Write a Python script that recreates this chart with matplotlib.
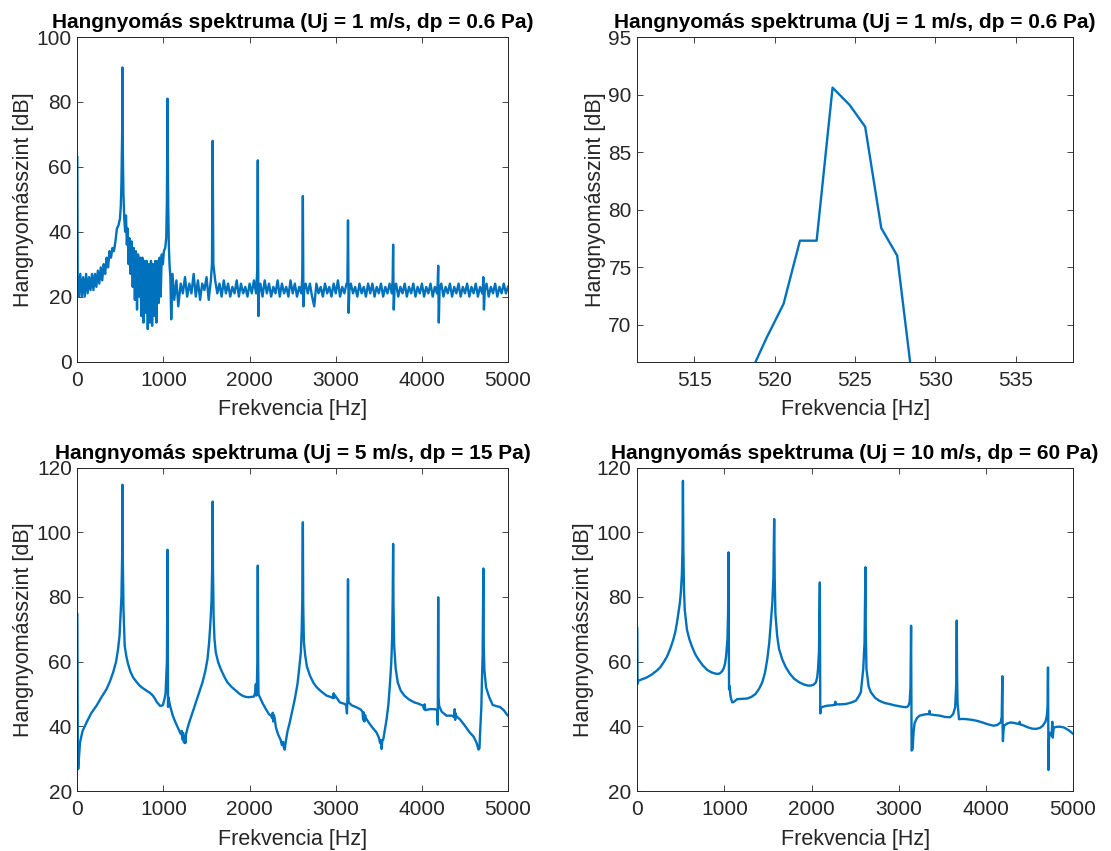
import numpy as np
import matplotlib.pyplot as plt

plt.rcParams['font.family'] = ['Liberation Sans', 'DejaVu Sans']

# Uj = 1 m/s, dp = 0.6 Pa  (frequency [Hz], level [dB])
spec_1 = [
    (0, 63), (4, 24), (17, 20), (34, 27), (51, 20), (68, 26), (85, 20), (102, 27),
    (119, 21), (136, 26), (153, 22), (170, 27), (187, 22), (204, 27), (221, 23),
    (238, 28), (255, 24), (272, 29), (289, 25), (306, 30), (323, 27), (340, 32),
    (357, 29), (374, 34), (391, 32), (408, 35), (425, 34), (442, 37), (460, 41),
    (478, 42), (495, 44), (505, 48), (512, 55), (518.5, 65.8), (519.52, 68.9),
    (520.56, 71.8), (521.58, 77.3), (522.62, 77.3), (523.61, 90.6), (524.67, 89.1),
    (525.64, 87.2), (526.64, 78.4), (527.63, 76.0), (528.65, 64.3), (535, 52),
    (545, 44), (555, 40), (565, 45), (575, 36), (585, 41), (595, 30), (605, 38),
    (618, 27), (630, 37), (643, 23), (655, 35), (668, 19), (680, 34), (693, 16),
    (705, 33), (718, 20), (730, 32), (743, 14), (755, 32), (768, 12), (780, 31),
    (793, 15), (805, 31), (818, 10), (830, 30), (843, 12), (855, 31), (868, 11),
    (880, 30), (893, 14), (905, 31), (918, 12), (930, 31), (943, 18), (955, 32),
    (968, 20), (980, 33), (993, 30), (1005, 34), (1020, 35), (1032, 38), (1040, 50),
    (1047, 81), (1054, 50), (1062, 36), (1070, 30), (1080, 26), (1090, 13),
    (1105, 27), (1125, 19), (1150, 25), (1172, 17), (1200, 24), (1225, 21),
    (1250, 26), (1275, 20), (1300, 24), (1325, 21), (1350, 27), (1375, 20),
    (1400, 25), (1425, 19), (1450, 24), (1475, 22), (1500, 26), (1525, 19),
    (1550, 25), (1563, 30), (1571, 68), (1579, 30), (1600, 25), (1625, 21),
    (1650, 24), (1675, 20), (1700, 25), (1725, 21), (1750, 24), (1775, 20),
    (1800, 23), (1825, 21), (1850, 25), (1875, 20), (1900, 24), (1925, 21),
    (1950, 23), (1975, 20), (2000, 24), (2025, 21), (2050, 25), (2075, 21),
    (2088, 28), (2095, 62), (2102, 14), (2110, 22), (2125, 24), (2150, 20),
    (2175, 25), (2200, 21), (2225, 24), (2250, 20), (2275, 23), (2300, 21),
    (2325, 25), (2350, 20), (2375, 24), (2400, 21), (2425, 23), (2450, 20),
    (2475, 25), (2500, 21), (2525, 24), (2550, 20), (2575, 23), (2600, 21),
    (2611, 26), (2618, 51), (2625, 17), (2635, 23), (2650, 24), (2675, 21),
    (2700, 24), (2725, 20), (2750, 17), (2775, 24), (2800, 21), (2825, 23),
    (2850, 20), (2875, 24), (2900, 21), (2925, 23), (2950, 20), (2975, 24),
    (3000, 21), (3025, 25), (3050, 20), (3075, 23), (3100, 21), (3125, 24),
    (3135, 24), (3142, 43.5), (3149, 15), (3158, 22), (3175, 24), (3200, 21),
    (3225, 23), (3250, 20), (3275, 24), (3300, 21), (3325, 23), (3350, 20),
    (3375, 24), (3400, 21), (3425, 24), (3450, 20), (3475, 23), (3500, 21),
    (3525, 24), (3550, 20), (3575, 23), (3600, 21), (3625, 24), (3650, 21),
    (3660, 25), (3666, 36), (3673, 16), (3682, 22), (3700, 24), (3725, 20),
    (3750, 23), (3775, 21), (3800, 24), (3825, 20), (3850, 23), (3875, 21),
    (3900, 24), (3925, 20), (3950, 23), (3975, 21), (4000, 24), (4025, 20),
    (4050, 23), (4075, 21), (4100, 24), (4125, 20), (4150, 23), (4175, 21),
    (4183, 24), (4189, 29.5), (4196, 12), (4205, 22), (4225, 24), (4250, 20),
    (4275, 23), (4300, 21), (4325, 24), (4350, 20), (4375, 23), (4400, 21),
    (4425, 24), (4450, 20), (4475, 23), (4500, 21), (4525, 24), (4550, 20),
    (4575, 23), (4600, 21), (4625, 24), (4650, 20), (4675, 23), (4700, 21),
    (4708, 23), (4713, 26), (4720, 16), (4730, 22), (4750, 24), (4775, 20),
    (4800, 23), (4825, 21), (4850, 24), (4875, 20), (4900, 23), (4925, 21),
    (4950, 24), (4975, 21), (5000, 23),
]

# Uj = 5 m/s, dp = 15 Pa
spec_5 = [
    (0, 74.7), (5, 35), (10, 26.8), (31, 35.0), (60, 38.5), (107, 41.2), (160, 44),
    (223, 46.4), (280, 49), (339, 51.5), (380, 54), (416, 56.7), (450, 60),
    (473, 63.9), (490, 68), (500, 73.2), (512, 80), (520, 92), (524, 114.7),
    (528, 92), (536, 76), (550, 64.9), (570, 61.5), (589, 59.3), (615, 57),
    (646, 55.2), (685, 53.8), (723, 52.6), (760, 51.8), (800, 51.1), (840, 50.4),
    (877, 49.5), (900, 48.6), (923, 47.5), (945, 46.8), (962, 46.3), (993, 46.5),
    (1012, 48.5), (1024, 50.1), (1040, 60), (1047, 94.6), (1051, 60), (1053, 46),
    (1056, 49), (1060, 48.5), (1080, 46), (1108, 43.3), (1135, 41.5), (1165, 39.7),
    (1185, 38.5), (1203, 37.6), (1212, 38.6), (1220, 36.0), (1228, 38.0),
    (1235, 35.2), (1241, 35.0), (1248, 36.8), (1254, 34.8), (1262, 37.6),
    (1280, 39.5), (1299, 41.2), (1340, 44.5), (1376, 47.4), (1415, 50.5),
    (1453, 53.6), (1485, 57), (1511, 60.8), (1530, 66), (1545, 72), (1558, 79),
    (1566, 90), (1571, 109.5), (1575, 88), (1582, 74), (1592, 67), (1607, 62.9),
    (1635, 59.8), (1665, 57.7), (1705, 55.4), (1742, 53.6), (1790, 52.2),
    (1838, 51.1), (1880, 50.1), (1915, 49.5), (1955, 49.1), (1992, 49.0),
    (2050, 49.2), (2065, 50.5), (2072, 53), (2078, 49.5), (2085, 53.5), (2090, 60),
    (2095, 89.7), (2099, 60), (2103, 50), (2110, 49.5), (2128, 48.5), (2146, 47.4),
    (2185, 45.5), (2223, 43.8), (2250, 43.2), (2262, 42.5), (2268, 44.2),
    (2275, 41.5), (2282, 43.5), (2290, 42.6), (2305, 39.7), (2330, 37.5),
    (2360, 35.8), (2375, 34.2), (2388, 35.2), (2398, 33.4), (2408, 32.8),
    (2418, 35), (2440, 38.5), (2466, 41.2), (2500, 45.5), (2525, 48.5), (2555, 53),
    (2575, 57.7), (2595, 63), (2605, 70), (2612, 80), (2618, 103.1), (2622, 78),
    (2630, 66), (2645, 62), (2665, 58.5), (2700, 55.7), (2740, 53.5), (2778, 52.1),
    (2830, 50.8), (2893, 49.5), (2950, 49.0), (2968, 48.7), (2975, 50.2),
    (2982, 48.8), (2990, 49.6), (3048, 47.4), (3107, 46.9), (3122, 46.3),
    (3130, 44), (3136, 49), (3142, 85.5), (3146, 50), (3150, 47.4), (3185, 46.5),
    (3240, 45.9), (3290, 45.2), (3310, 44.5), (3318, 42), (3325, 44.3),
    (3332, 41.5), (3340, 43.5), (3350, 42.5), (3395, 40.7), (3435, 39.3),
    (3473, 38.1), (3500, 36.5), (3515, 34.8), (3525, 35.8), (3532, 33.0),
    (3540, 35.5), (3552, 36), (3570, 39), (3590, 42.2), (3612, 47), (3630, 53.6),
    (3645, 60), (3655, 68), (3661, 80), (3666, 96.4), (3670, 78), (3678, 65),
    (3695, 58), (3719, 53.6), (3755, 51), (3796, 49.5), (3850, 48.3), (3912, 47.4),
    (3960, 47), (4012, 46.4), (4025, 45.3), (4032, 46.8), (4040, 45), (4089, 45.3),
    (4150, 45.3), (4178, 45), (4184, 40.5), (4189, 79.9), (4193, 49), (4200, 46.3),
    (4230, 44.5), (4285, 43.3), (4350, 43.3), (4375, 42.8), (4381, 45.3),
    (4386, 42), (4392, 44), (4398, 43.2), (4440, 42.2), (4490, 40.5), (4555, 38.1),
    (4600, 36.8), (4633, 35.0), (4650, 33.5), (4656, 32.8), (4668, 33.2),
    (4677, 38.8), (4690, 46), (4697, 54.3), (4705, 62), (4713, 88.8), (4718, 65),
    (4725, 57.4), (4745, 52), (4780, 49.1), (4822, 46.6), (4870, 46.2),
    (4905, 46.0), (4950, 45), (4988, 43.6), (5000, 43.3),
]

# Uj = 10 m/s, dp = 60 Pa
spec_10 = [
    (0, 70.3), (3, 53.1), (12, 54.1), (60, 54.6), (108, 55.1), (165, 56),
    (223, 57.2), (265, 58.3), (300, 59.7), (340, 61.5), (377, 63.9), (410, 66.5),
    (435, 69), (455, 72), (473, 75.2), (490, 78.5), (500, 81.4), (512, 87),
    (519, 95), (524, 115.9), (529, 95), (536, 82), (545, 76), (570, 69.9),
    (597, 67), (627, 64.7), (665, 62.3), (704, 60.6), (750, 58.9), (800, 57.5),
    (850, 56.7), (896, 56.3), (930, 56.2), (954, 56.5), (975, 57.1), (993, 58),
    (1008, 59.5), (1019, 61.6), (1035, 67), (1042, 75), (1047, 93.8), (1050, 70),
    (1053, 51.5), (1058, 52.5), (1062, 51.3), (1072, 49), (1089, 47.4),
    (1110, 47.6), (1146, 48.4), (1200, 48.5), (1261, 48.6), (1310, 49.1),
    (1357, 50.0), (1400, 51.7), (1434, 53.6), (1465, 56.5), (1492, 60.8),
    (1515, 66), (1530, 71.1), (1550, 78.3), (1562, 86), (1571, 104.1), (1577, 86),
    (1585, 75), (1605, 68), (1627, 63.9), (1665, 60.6), (1704, 58.3), (1750, 56.3),
    (1800, 54.7), (1860, 53.6), (1915, 52.9), (1960, 52.6), (1992, 52.6),
    (2025, 52.9), (2050, 53.6), (2065, 55.2), (2075, 58), (2085, 63), (2095, 84.5),
    (2098, 60), (2100, 44.0), (2106, 45.5), (2115, 45.9), (2150, 46.2),
    (2184, 46.4), (2236, 46.5), (2268, 46.7), (2272, 47.6), (2277, 46.8),
    (2330, 46.8), (2390, 46.9), (2450, 47.3), (2507, 47.9), (2540, 49.2),
    (2565, 50.5), (2593, 57.7), (2608, 66), (2618, 89.2), (2622, 70), (2630, 57.7),
    (2655, 52.3), (2681, 50.5), (2730, 48.8), (2778, 47.9), (2840, 47.2),
    (2894, 46.9), (2950, 46.5), (3010, 46.2), (3050, 46.0), (3087, 45.9),
    (3110, 46.3), (3125, 47.4), (3135, 52), (3142, 71.1), (3145, 50), (3148, 32.5),
    (3160, 33), (3170, 38), (3182, 41), (3210, 42.6), (3240, 43.3), (3300, 43.7),
    (3350, 43.8), (3354, 44.8), (3358, 43.7), (3410, 43.5), (3474, 43.3),
    (3530, 42.9), (3590, 42.8), (3625, 43.8), (3648, 45.9), (3660, 53),
    (3666, 72.7), (3670, 56), (3675, 47.4), (3688, 43.5), (3692, 42.2),
    (3730, 42.3), (3782, 42.2), (3840, 42), (3899, 41.7), (3960, 41.2),
    (4015, 40.7), (4055, 40.4), (4092, 40.2), (4130, 40.4), (4170, 41.2),
    (4182, 43), (4189, 55.5), (4192, 40), (4196, 35.4), (4202, 38.5), (4210, 40.2),
    (4245, 40.9), (4286, 41.2), (4330, 41.0), (4382, 40.7), (4388, 41.4),
    (4394, 40.6), (4430, 40.3), (4480, 39.7), (4530, 39.3), (4576, 39.2),
    (4620, 39.5), (4654, 40.2), (4685, 41.5), (4700, 43.3), (4708, 46),
    (4713, 58.2), (4716, 40), (4719, 26.5), (4724, 36), (4735, 38), (4755, 37.2),
    (4762, 41.4), (4768, 36.5), (4778, 39.5), (4800, 39.8), (4850, 39.9),
    (4900, 39.6), (4950, 38.8), (5000, 37.7),
]

titles = [
    "Hangnyomás spektruma (Uj = 1 m/s, dp = 0.6 Pa)",
    "Hangnyomás spektruma (Uj = 1 m/s, dp = 0.6 Pa)",
    "Hangnyomás spektruma (Uj = 5 m/s, dp = 15 Pa)",
    "Hangnyomás spektruma (Uj = 10 m/s, dp = 60 Pa)",
]
xlabel = "Frekvencia [Hz]"
ylabel = "Hangnyomásszint [dB]"

LINE = '#0072BD'
GRAY = '#262626'

fig = plt.figure(figsize=(11.11, 8.51), dpi=100)
positions = [
    [0.0696, 0.5752, 0.3877, 0.3813],
    [0.5736, 0.5752, 0.3922, 0.3813],
    [0.0696, 0.0705, 0.3877, 0.3800],
    [0.5736, 0.0705, 0.3922, 0.3800],
]
data = [spec_1, spec_1, spec_5, spec_10]
xlims = [(0, 5000), (511.46, 538.57), (0, 5000), (0, 5000)]
ylims = [(0, 100), (66.8, 95), (20, 120), (20, 120)]
xticks = [np.arange(0, 5001, 1000), np.arange(515, 536, 5),
          np.arange(0, 5001, 1000), np.arange(0, 5001, 1000)]
yticks = [np.arange(0, 101, 20), np.arange(70, 96, 5),
          np.arange(20, 121, 20), np.arange(20, 121, 20)]

for i in range(4):
    ax = fig.add_axes(positions[i])
    f, L = zip(*data[i])
    ax.plot(f, L, color=LINE, linewidth=1.7)
    ax.set_xlim(*xlims[i])
    ax.set_ylim(*ylims[i])
    ax.set_xticks(xticks[i])
    ax.set_yticks(yticks[i])
    ax.tick_params(direction='in', top=True, right=True, length=4, width=0.6,
                   colors=GRAY, labelsize=15)
    ax.tick_params(axis='x', pad=6.5)
    ax.tick_params(axis='y', pad=4)
    for s in ax.spines.values():
        s.set_color(GRAY)
        s.set_linewidth(0.7)
    ax.set_xlabel(xlabel, fontsize=15.5, color=GRAY, labelpad=7)
    ax.set_ylabel(ylabel, fontsize=15.5, color=GRAY, labelpad=2)
    ax.set_title(titles[i], fontsize=15, fontweight='bold', pad=6.5)

fig.savefig('out.png', dpi=100, facecolor='white')
